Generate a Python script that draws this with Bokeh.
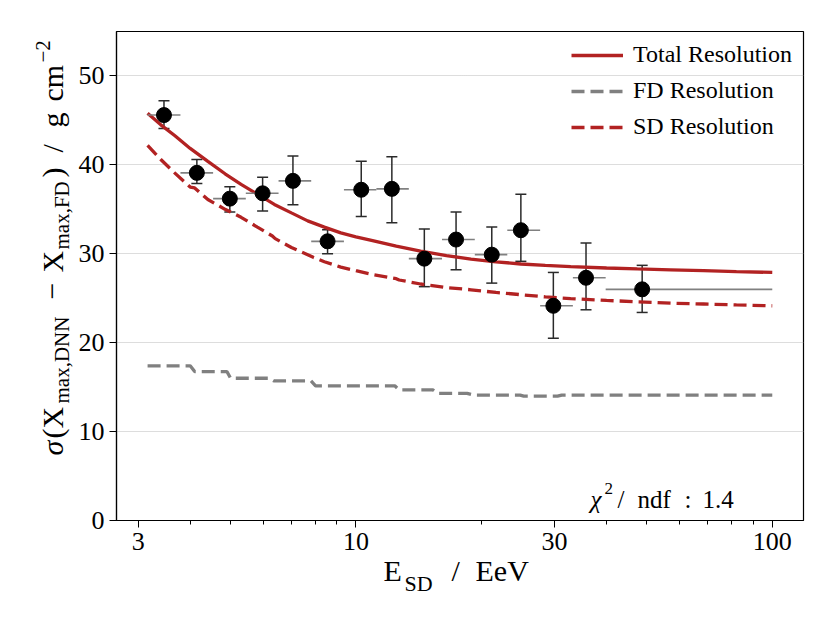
import math
from bokeh.plotting import figure
from bokeh.models import (Range1d, FixedTicker, Whisker, TeeHead, ColumnDataSource,
                          Legend, LegendItem)
from bokeh.core.properties import value
from bokeh.embed import file_html
from bokeh.resources import INLINE

# ---------------- data ----------------
E_mean = [3.46, 4.15, 4.98, 5.97, 7.06, 8.55, 10.3, 12.2, 14.6, 17.4, 21.2, 24.9, 29.8, 35.7, 48.7]
E_lo = [3.16, 3.79, 4.54, 5.44, 6.52, 7.81, 9.36, 11.2, 13.4, 16.1, 19.3, 23.1, 27.7, 33.2, 39.8]
E_hi = [3.79, 4.54, 5.44, 6.52, 7.81, 9.36, 11.2, 13.4, 16.1, 19.3, 23.1, 27.7, 33.2, 39.8, 100.0]
sigma = [45.6, 39.1, 36.2, 36.8, 38.2, 31.4, 37.2, 37.3, 29.45, 31.6, 29.9, 32.65, 24.15, 27.3, 26.0]
sigma_lo = [44.1, 37.9, 34.7, 34.8, 35.5, 30.0, 34.2, 33.5, 26.3, 28.2, 26.7, 29.15, 20.5, 23.7, 23.4]
sigma_hi = [47.2, 40.6, 37.55, 38.6, 41.0, 32.7, 40.4, 40.9, 32.8, 34.7, 33.0, 36.7, 27.9, 31.2, 28.7]

total_E = [3.16, 3.4, 3.67, 4.0, 4.41, 4.85, 5.3, 5.8, 6.37, 7.0, 7.66, 8.4, 9.2, 10.0, 10.9,
           12.5, 14.3, 16.5, 18.9, 21.7, 24.9, 28.5, 32.8, 40.0, 47.4, 57.0, 68.4, 82.0, 100.0]
total_sigma = [45.8, 44.5, 43.3, 41.85, 40.4, 39.0, 37.8, 36.7, 35.55, 34.6, 33.7, 33.0, 32.35, 31.9, 31.5,
               30.85, 30.3, 29.8, 29.4, 29.1, 28.85, 28.7, 28.55, 28.4, 28.3, 28.2, 28.1, 28.0, 27.9]

sd_E = [3.16, 3.4, 3.67, 4.0, 4.1, 4.41, 4.85, 5.0, 5.3, 5.8, 6.3, 6.4, 7.0, 7.66, 7.9, 8.4, 9.2,
        10.0, 10.9, 12.5, 12.7, 14.3, 16.5, 18.9, 21.7, 24.9, 28.5, 32.8, 40.0, 47.4, 57.0, 68.4, 82.0, 100.0]
sd_sigma = [42.2, 40.6, 39.1, 37.5, 37.4, 36.1, 35.0, 34.7, 34.1, 33.0, 32.0, 31.7, 30.7, 29.9, 29.6, 29.1, 28.5,
            28.1, 27.7, 27.2, 27.05, 26.6, 26.2, 25.95, 25.65, 25.4, 25.15, 24.95, 24.75, 24.6, 24.45, 24.35, 24.25, 24.15]

fd_E = [3.16, 4.0, 4.1, 4.9, 5.0, 6.2, 6.35, 7.8, 8.0, 12.4, 12.7, 15.3, 15.7, 18.5, 19.2,
        24.8, 25.3, 30.5, 31.2, 100.0]
fd_sigma = [17.4, 17.4, 16.75, 16.75, 16.0, 16.0, 15.7, 15.7, 15.15, 15.15, 14.7, 14.7, 14.3, 14.3, 14.1,
            14.1, 13.98, 13.98, 14.1, 14.1]

x_major = [3, 10, 30, 100]
x_minor = [4, 5, 6, 7, 8, 9, 20, 40, 50, 60, 70, 80, 90]
y_major = [0, 10, 20, 30, 40, 50]

legend_labels = ["Total Resolution", "FD Resolution", "SD Resolution"]

# ---------------- styling ----------------
FONT = "Liberation Serif"
RED = "#b22222"
GREY = "#808080"
DASH = "13 6"
X_LO, X_HI = 2.661, 118.85
Y_LO, Y_HI = 0, 55

p = figure(width=828, height=620, x_axis_type="log",
           x_range=Range1d(X_LO, X_HI), y_range=Range1d(Y_LO, Y_HI),
           output_backend="svg", toolbar_location=None, title=None,
           min_border_left=116, min_border_right=25, min_border_top=31, min_border_bottom=100)

p.outline_line_color = "black"
p.outline_line_width = 1.2
p.background_fill_color = "white"
p.border_fill_color = "white"

p.xgrid.visible = False
p.ygrid.grid_line_color = "#aaaaaa"
p.ygrid.grid_line_dash = "1 1"
p.ygrid.grid_line_width = 0.8

p.xaxis.ticker = FixedTicker(ticks=x_major, minor_ticks=x_minor)
p.xaxis.major_label_overrides = {t: str(t) for t in x_major}
p.yaxis.ticker = FixedTicker(ticks=y_major, minor_ticks=[])

for ax in (p.xaxis, p.yaxis):
    ax.axis_line_color = "black"
    ax.axis_line_width = 1.2
    ax.major_tick_in = 0
    ax.major_tick_out = 7
    ax.minor_tick_in = 0
    ax.minor_tick_out = 4
    ax.major_tick_line_color = "black"
    ax.minor_tick_line_color = "black"
    ax.major_label_text_font = FONT
    ax.major_label_text_font_size = "26px"
    ax.major_label_text_color = "black"
    ax.major_label_standoff = 5
p.yaxis.minor_tick_line_color = None

# curves
r_total = p.line(total_E, total_sigma, line_color=RED, line_width=3.3)
r_fd = p.line(fd_E, fd_sigma, line_color=GREY, line_width=3.3, line_dash=DASH)
r_sd = p.line(sd_E, sd_sigma, line_color=RED, line_width=3.3, line_dash=DASH)

# error bars and points
src = ColumnDataSource(dict(x=E_mean, y=sigma, lo=sigma_lo, hi=sigma_hi, xlo=E_lo, xhi=E_hi))
p.segment(x0="xlo", y0="y", x1="xhi", y1="y", source=src, line_color=GREY, line_width=1.6)
p.add_layout(Whisker(base="x", lower="lo", upper="hi", source=src, dimension="height",
                     line_color="#2a2a2a", line_width=1.5,
                     upper_head=TeeHead(size=11, line_color="#2a2a2a", line_width=1.5),
                     lower_head=TeeHead(size=11, line_color="#2a2a2a", line_width=1.5)))
p.scatter("x", "y", source=src, size=15, fill_color="black", line_color="black")

# legend
legend = Legend(items=[LegendItem(label=legend_labels[0], renderers=[r_total]),
                       LegendItem(label=legend_labels[1], renderers=[r_fd]),
                       LegendItem(label=legend_labels[2], renderers=[r_sd])],
                location=(455, 380), background_fill_alpha=0, border_line_color=None,
                glyph_width=52, glyph_height=24, label_height=24, label_standoff=10,
                spacing=9, padding=5, margin=0,
                label_text_font=FONT, label_text_font_size="24px", label_text_color="black")
p.add_layout(legend)

# ---------------- composed texts (axis titles with sub/superscripts, chi2 note) ----------------
# offsets in pixels from the bottom-left corner of the plot frame
FRAME_LEFT_PX, FRAME_BOTTOM_PX = 116, 520
V = math.pi / 2
LIFT = 0.28  # baseline correction, in em
# (text, page x, page baseline y, font px, angle, style)
pieces = [
    ("E", 383, 578, 30, 0.0, "normal"),
    ("SD", 404, 589, 22, 0.0, "normal"),
    ("/", 451, 578, 30, 0.0, "normal"),
    ("EeV", 475, 578, 30, 0.0, "normal"),
    ("σ", 60, 455, 30, V, "italic"),
    ("(X", 60, 438, 30, V, "normal"),
    ("max,DNN", 67, 403, 21, V, "normal"),
    ("−", 60, 299, 30, V, "normal"),
    ("X", 60, 272, 30, V, "normal"),
    ("max,FD", 67, 249, 21, V, "normal"),
    (")", 60, 177, 30, V, "normal"),
    ("/", 60, 152, 30, V, "normal"),
    ("g", 60, 127, 30, V, "normal"),
    ("cm", 60, 101, 30, V, "normal"),
    ("−2", 48, 62, 21, V, "normal"),
    ("χ", 590, 506, 25, 0.0, "italic"),
    ("2", 604, 493, 17, 0.0, "normal"),
    ("/", 617, 506, 25, 0.0, "normal"),
    ("ndf", 637, 506, 25, 0.0, "normal"),
    (":", 684, 506, 25, 0.0, "normal"),
    ("1.4", 702, 506, 25, 0.0, "normal"),
]


def offsets(t):
    _, px, py, size, ang, _ = t
    if ang == 0.0:
        return px - FRAME_LEFT_PX, py - FRAME_BOTTOM_PX - LIFT * size
    return px - FRAME_LEFT_PX - LIFT * size, py - FRAME_BOTTOM_PX


offs = [offsets(t) for t in pieces]
tsrc = ColumnDataSource(dict(
    x=[X_LO] * len(pieces), y=[Y_LO] * len(pieces),
    text=[t[0] for t in pieces],
    xo=[o[0] for o in offs],
    yo=[o[1] for o in offs],
    size=[f"{t[3]}px" for t in pieces],
    angle=[t[4] for t in pieces],
    style=[t[5] for t in pieces],
))
p.text(x="x", y="y", text="text", source=tsrc, x_offset="xo", y_offset="yo",
       angle="angle", text_font=value(FONT), text_font_size="size", text_font_style="style",
       text_color="black", text_align="left", text_baseline="alphabetic", level="overlay")

open("out.html", "w").write(file_html(p, INLINE))
